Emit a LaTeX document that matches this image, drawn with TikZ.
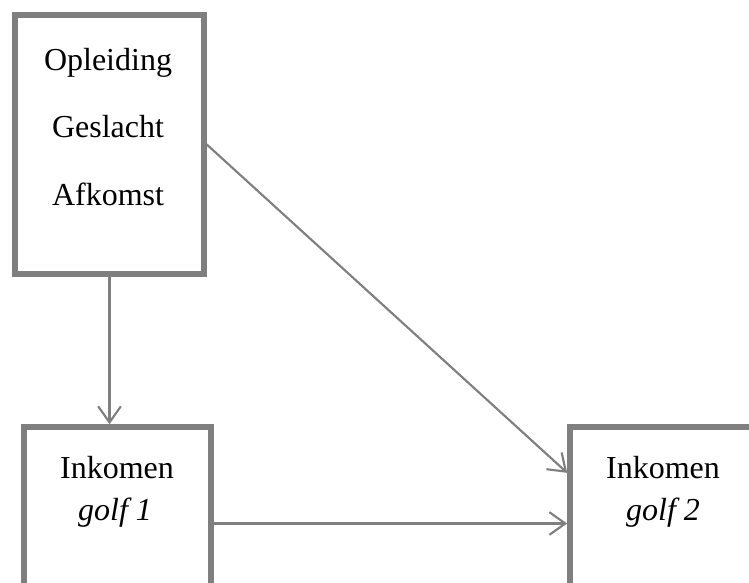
\documentclass[tikz,border=0pt]{standalone}
\usepackage{fontspec}
\setmainfont{Liberation Serif}
\usepackage{color}
\definecolor{boxgray}{RGB}{127,127,127}
\usetikzlibrary{arrows.meta,positioning}
\tikzstyle{box}=[draw=boxgray,line width=4.2pt,rectangle,inner sep=0pt]
\tikzstyle{label}=[anchor=base,inner sep=0pt,font=\fontsize{24}{29}\selectfont]
\tikzstyle{arr}=[draw=boxgray,line width=1.6pt,-{Straight Barb[length=12pt,width=17pt,line width=1.6pt]}]

\begin{document}
\begin{tikzpicture}[x=0.75pt,y=-0.75pt]
\useasboundingbox (0,0) rectangle (749,582);
\node [box,minimum width=141.75pt,minimum height=194.25pt] (src) at (109.5,144.5) {};
\node [box,minimum width=140.25pt,minimum height=144.75pt] (inc1) at (117.5,523.5) {};
\node [box,minimum width=142.5pt,minimum height=144.75pt] (inc2) at (665,523.5) {};
\node [label] (opl) at (108,70) {Opleiding};
\node [label] (ges) at (108,137) {Geslacht};
\node [label] (afk) at (108,205) {Afkomst};
\node [label] (ink1) at (117,478) {Inkomen};
\node [label] (golf1) at (115,520) {\itshape golf 1};
\node [label] (ink2) at (663,478) {Inkomen};
\node [label] (golf2) at (663,520) {\itshape golf 2};
\draw[arr] (src.south) -- (src.south |- inc1.north);
\draw[arr] (src.east) -- ([yshift=38pt]inc2.west);
\draw[arr] (inc1.east) -- (inc2.west);
\end{tikzpicture}
\end{document}
